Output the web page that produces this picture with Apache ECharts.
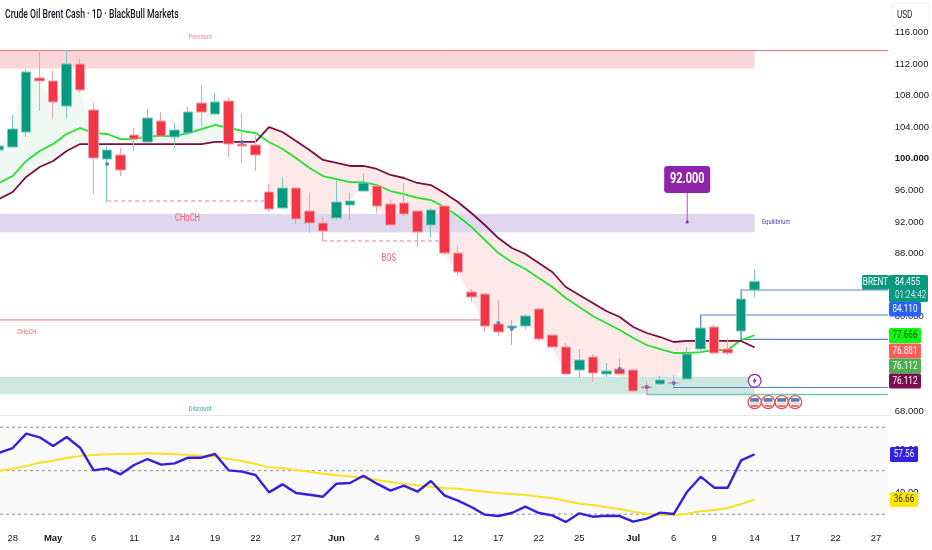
<!DOCTYPE html>
<html><head><meta charset="utf-8">
<style>html,body{margin:0;padding:0;background:#fff}#c{width:932px;height:550px}</style>
<script src="https://cdn.jsdelivr.net/npm/echarts@6/dist/echarts.min.js"></script>
</head><body><div id="c"></div>
<script>
const categories=["04-27","04-28","04-29","04-30","05-01","05-04","05-05","05-06","05-07","05-08","05-11","05-12","05-13","05-14","05-15","05-18","05-19","05-20","05-21","05-22","05-25","05-26","05-27","05-28","05-29","06-01","06-02","06-03","06-04","06-05","06-08","06-09","06-10","06-11","06-12","06-15","06-16","06-17","06-18","06-19","06-22","06-23","06-24","06-25","06-26","06-29","06-30","07-01","07-02","07-03","07-06","07-07","07-08","07-09","07-10","07-13","07-14","07-15","07-16","07-17","07-20","07-21","07-22","07-23","07-24","07-27"];
const dayTicks=["04-28","05-06","05-11","05-14","05-19","05-22","05-27","06-04","06-09","06-12","06-17","06-22","06-25","07-06","07-09","07-14","07-17","07-22","07-27"];
const monthTicks={"05-01":"May","06-01":"Jun","07-01":"Jul"};
const hiddenPriceTicks=[120,84,76,72];
const opens=[101.11,101.49,103.39,110.23,109.85,106.68,112.0,106.18,99.97,100.48,103.01,102.13,104.78,102.76,103.26,107.06,105.67,107.32,101.87,101.75,95.80,93.77,96.30,93.39,91.87,92.51,94.15,95.92,96.56,94.28,94.40,93.39,91.62,94.02,88.07,83.14,82.88,79.09,78.58,78.83,80.99,77.69,76.18,73.26,74.91,72.76,73.39,73.26,71.15,71.49,71.68,72.13,75.92,78.71,75.92,78.20,83.39];
const closes=[101.62,103.77,110.99,109.85,107.19,112.0,108.71,100.1,101.11,98.58,102.5,105.16,102.88,103.64,105.92,105.92,107.19,101.87,101.62,100.48,93.64,96.30,92.38,91.87,90.86,94.53,94.66,96.94,94.02,91.62,93.01,90.73,93.52,88.07,85.67,82.51,78.83,78.08,78.83,80.1,77.19,76.18,72.76,74.53,72.88,73.14,72.76,70.61,70.99,72.0,71.55,75.29,78.58,75.42,75.42,82.25,84.455];
const lows=[100.99,101.43,102.76,106.05,105.04,105.16,108.33,95.42,94.53,97.82,100.99,102.06,102.82,101.37,103.2,104.02,105.6,100.23,99.47,98.45,93.27,93.7,91.75,90.61,89.59,92.25,92.25,95.86,93.14,91.56,92.76,88.83,89.97,87.82,85.16,81.87,78.08,77.57,76.43,78.45,76.94,76.11,72.7,72.25,71.75,72.38,72.7,70.54,70.1,71.37,71.11,72.06,75.42,75.35,75.16,77.06,82.51];
const highs=[101.75,105.54,111.37,113.52,111.11,113.77,112.63,107.06,101.62,101.37,103.9,106.3,105.92,104.53,106.56,109.34,108.33,107.69,105.8,103.01,96.81,97.7,96.4,95.67,92.63,97.19,95.67,98.2,96.62,94.91,96.94,93.45,93.77,94.15,88.96,83.52,83.01,82.13,79.59,80.35,81.11,77.75,76.68,75.92,75.29,74.15,74.78,73.33,71.87,72.5,72.63,76.18,78.65,78.96,77.32,82.3,86.05];
const fastMA=[96.94,97.82,99.72,100.99,101.87,103.14,103.9,103.26,103.14,102.5,102.5,102.88,102.88,102.88,103.26,103.77,104.28,103.9,103.52,103.26,102.13,101.24,100.1,98.83,97.82,97.44,97.06,97.06,96.68,95.92,95.54,95.04,94.78,93.9,92.76,91.37,89.72,88.07,86.94,86.05,84.91,83.77,82.38,81.24,80.1,79.21,78.33,77.32,76.43,75.92,75.42,75.42,75.54,75.8,75.8,77.06,77.666];
const slowMA=[94.91,95.8,97.7,98.96,99.72,100.99,101.87,101.87,101.87,101.87,101.87,101.87,101.87,101.87,101.87,101.87,102.13,102.13,102.13,102.13,104.02,103.39,102.25,101.11,99.85,99.47,99.09,99.09,98.71,97.95,97.57,96.94,96.68,95.67,94.53,93.14,91.62,89.97,88.71,87.95,86.81,85.67,83.77,82.76,81.75,80.73,79.97,78.71,77.95,77.44,76.81,76.94,76.94,76.94,76.94,76.94,76.112];
const rsi=[58.28,60.43,67.02,65.33,61.35,65.49,60.58,50.16,51.08,48.32,52.61,55.37,52.77,53.38,55.98,55.98,57.67,50.16,49.55,48.01,40.04,43.72,39.74,38.97,38.05,44.03,44.34,47.71,44.03,40.81,43.11,40.35,45.26,38.67,36.21,33.3,29.78,29.16,30.54,33.46,30.54,29.47,26.4,30.39,28.86,29.32,29.16,26.56,27.94,30.7,30.08,40.35,47.25,42.19,42.19,54.76,57.56];
const rsiMA=[50,50.93,52.15,53.68,54.6,55.83,56.75,57.21,57.52,57.67,57.82,57.98,57.82,57.52,57.21,56.9,56.44,55.37,54.45,53.07,51.54,51.08,50.31,49.55,48.63,47.86,47.4,46.63,45.72,44.8,43.88,43.26,42.65,42.04,41.73,40.97,40.35,39.74,39.28,38.82,38.05,37.29,36.21,34.83,34.22,33.15,32.38,31.16,30.24,29.62,29.47,30.24,31.31,31.92,32.84,34.68,36.66];
const signalDots=[[8,99.34],[18,102.13],[37,79.21],[38,78.45],[46,73.43],[48,71.11],[50,71.62]];
const premiumZone=[113.7,111.43], equilibriumZone=[93.0,90.7], discountZone=[72.4,70.2];
const zoneEndBar=56, paneEndBar=65.89, trendFlipBar=20;
const rsiLevels=[70,50,30];
const blueLevels=[[[55,78.2],[55,77.13],[paneEndBar,77.13]],[[55,82.25],[55,83.39],[paneEndBar,83.39]],[[52,78.58],[52,80.23],[paneEndBar,80.23]],[[50,71.55],[50,71.05],[paneEndBar,71.05]]];
const tealLevels=[[[48,70.99],[48,70.17],[paneEndBar,70.17]]];
const redLevels=[[[-1,113.7],[paneEndBar,113.7]],[[-1,79.6],[36,79.6]]];
const dashedLevels=[[[8,94.66],[20,94.66]],[[24,89.6],[33,89.6]]];
const notes=[["Premium",14.9,115.4,"#f0808f",8],["CHoCH",13.96,92.5,"#ee5f70",10.5],["BOS",28.88,87.44,"#ee5f70",10.5],["CHoCH",2.05,78.07,"#ee5f70",8],["Discount",14.9,68.33,"#2aa894",8],["Equilibrium",57.6,92,"#4c3fb0",8]];
const targetBar=51, targetPrice=92;
const flagBars=[56,57,58,59], flagPrice=69.2, boltBar=56, boltPrice=71.9;

const FONT='"Liberation Sans",sans-serif', TF='Roboto,"Liberation Sans",sans-serif';
const UP='#089981',DOWN='#f23645';
function xAt(api,v){const f=Math.floor(v),b=Math.max(f,0);return api.coord([b,0])[0]+(v-b)*api.size([1,0])[0];}
function pathSeries(paths,color,width,dash,z){return {type:'custom',xAxisIndex:0,yAxisIndex:0,z,silent:true,clip:false,data:paths.map((_,k)=>[k]),renderItem(p,api){
  const pts=paths[p.dataIndex].map(q=>[xAt(api,q[0]),api.coord([0,q[1]])[1]]);
  return {type:'polyline',shape:{points:pts},style:{stroke:color,lineWidth:width,lineDash:dash||null,fill:null}};}};}
function zoneSeries(z1,fill){return {type:'custom',xAxisIndex:0,yAxisIndex:0,z:2,silent:true,clip:true,data:[[zoneEndBar,z1[0],z1[1]]],renderItem(p,api){
  const a=api.coord([zoneEndBar,z1[0]]),b=api.coord([zoneEndBar,z1[1]]);
  return {type:'rect',shape:{x:-8,y:a[1],width:a[0]+8,height:b[1]-a[1]},style:{fill}};}};}
const cloudRows=[];
for(let i=0;i<opens.length-1;i++){
  const j=i+1, green=i<trendFlipBar-1, pink=i>=trendFlipBar;
  if(!green&&!pink)continue;
  const edge=k=>green?Math.max(closes[k],slowMA[k]):Math.min(closes[k],slowMA[k]);
  cloudRows.push([i,slowMA[i],edge(i),slowMA[j],edge(j),green?0:1]);
}
const option={animation:false,backgroundColor:'#fff',tooltip:{show:false},
 grid:[{left:-7.54,width:890.34,top:0.8,height:410.8,outerBoundsMode:'none'},{left:-7.54,width:890.34,top:414.15,height:121.8,outerBoundsMode:'none'}],
 xAxis:[{type:'category',gridIndex:0,data:categories,boundaryGap:true,axisLine:{show:false},axisTick:{show:false},axisLabel:{show:false},splitLine:{show:false}},
  {type:'category',gridIndex:1,data:categories,boundaryGap:true,axisLine:{show:false},axisTick:{show:false},splitLine:{show:false},
   axisLabel:{interval:0,margin:-3,color:'#131722',fontFamily:FONT,fontSize:9.5,hideOverlap:false,
    rich:{m:{fontWeight:'bold',color:'#131722',fontFamily:FONT,fontSize:9.5}},
    formatter(v){if(monthTicks[v])return '{m|'+monthTicks[v]+'}';if(dayTicks.includes(v))return String(+v.slice(3));return '';}}}],
 yAxis:[{type:'value',gridIndex:0,position:'right',min:68,max:120,interval:4,scale:true,axisLine:{show:false},axisTick:{show:false},splitLine:{show:false},
   axisLabel:{margin:12,align:'left',color:'#131722',fontFamily:FONT,fontSize:9.5,rich:{b:{fontWeight:'bold',color:'#131722',fontFamily:FONT,fontSize:9.5}},
    formatter(v){if(hiddenPriceTicks.includes(v))return '';const s=v.toFixed(3);return v===100?'{b|'+s+'}':s;}}},
  {type:'value',gridIndex:1,position:'right',min:20,max:76,interval:20,axisLine:{show:false},axisTick:{show:false},splitLine:{show:false},
   axisLabel:{margin:12,align:'left',color:'#131722',fontFamily:FONT,fontSize:9.5,formatter(v){return (v===40||v===60)?v.toFixed(2):'';}}}],
 series:[
  {type:'custom',name:'cloud',xAxisIndex:0,yAxisIndex:0,z:1,silent:true,data:cloudRows,encode:{x:0,y:[1,2]},renderItem(p,api){
    const i=api.value(0),a=api.coord([i,api.value(1)]),b=api.coord([i,api.value(2)]),c=api.coord([i+1,api.value(4)]),d=api.coord([i+1,api.value(3)]);
    const fill=api.value(5)?'#fde9e9':'#eff8f2';
    return {type:'polygon',shape:{points:[a,b,c,d]},style:{fill,stroke:fill,lineWidth:0.5}};}},
  zoneSeries(premiumZone,'#fcd5d9'),zoneSeries(equilibriumZone,'#ded7ee'),zoneSeries(discountZone,'#cde7e1'),
  {type:'line',name:'Fast MA',xAxisIndex:0,yAxisIndex:0,data:fastMA,symbol:'none',z:3,silent:true,lineStyle:{color:'#22e32a',width:1.8}},
  {type:'line',name:'Slow MA',xAxisIndex:0,yAxisIndex:0,data:slowMA,symbol:'none',z:3,silent:true,lineStyle:{color:'#7b0f42',width:1.8}},
  pathSeries(redLevels,'#e4737b',1,null,3),
  pathSeries(dashedLevels,'#f27c8c',1,[4,3],3),
  pathSeries(blueLevels,'#5b83c6',1.2,null,3),
  pathSeries(tealLevels,'#74c5b3',1.5,null,3),
  {type:'candlestick',name:'BRENT',xAxisIndex:0,yAxisIndex:0,z:4,silent:true,barWidth:10,
   data:opens.map((o,i)=>[o,closes[i],lows[i],highs[i]]),
   itemStyle:{color:UP,color0:DOWN,borderColor:'#7ec8b9',borderColor0:'#f5a0a9',borderWidth:1}},
  {type:'scatter',name:'signals',xAxisIndex:0,yAxisIndex:0,z:5,silent:true,symbolSize:4,data:signalDots,itemStyle:{color:'#3b6cc4'}},
  {type:'custom',name:'notes',xAxisIndex:0,yAxisIndex:0,z:6,silent:true,clip:false,data:notes.map((_,k)=>[k]),renderItem(p,api){
    const n=notes[p.dataIndex];
    return {type:'text',x:xAt(api,n[1]),y:api.coord([0,n[2]])[1],scaleX:0.72,style:{text:n[0],fill:n[3],font:n[4]+'px '+TF,align:'center',verticalAlign:'middle'}};}},
  {type:'custom',name:'target',xAxisIndex:0,yAxisIndex:0,z:7,silent:true,clip:false,data:[[targetBar,targetPrice]],encode:{x:0,y:1},renderItem(p,api){
    const c=api.coord([api.value(0),api.value(1)]);const x=c[0],y=c[1];
    return {type:'group',children:[
      {type:'line',shape:{x1:x,y1:y,x2:x,y2:y-29},style:{stroke:'#b14fc0',lineWidth:1}},
      {type:'circle',shape:{cx:x,cy:y,r:1.5},style:{fill:'#8e24aa'}},
      {type:'rect',shape:{x:x-23,y:y-56,width:46,height:27,r:3},style:{fill:'#8e24aa'}},
      {type:'text',x:x,y:y-42.5,scaleX:0.78,style:{text:api.value(1).toFixed(3),fill:'#fff',font:'bold 14px '+TF,align:'center',verticalAlign:'middle'}}]};}},
  {type:'custom',name:'events',xAxisIndex:0,yAxisIndex:0,z:7,silent:true,clip:false,data:flagBars.map(b=>[b,flagPrice]),encode:{x:0,y:1},renderItem(p,api){
    const c=api.coord([api.value(0),api.value(1)]);const x=c[0],y=c[1];
    return {type:'group',children:[
      {type:'circle',shape:{cx:x,cy:y,r:6.6},style:{fill:'#fff',stroke:'#e24a4a',lineWidth:1.2}},
      {type:'rect',shape:{x:x-4.4,y:y-4,width:8.8,height:3.6},style:{fill:'#5a78b8'}},
      {type:'rect',shape:{x:x-4.6,y:y+0.6,width:9.2,height:1},style:{fill:'#f3b5b5'}},
      {type:'rect',shape:{x:x-3.6,y:y+3,width:7.2,height:1.6},style:{fill:'#e24a4a'}}]};}},
  {type:'custom',name:'bolt',xAxisIndex:0,yAxisIndex:0,z:7,silent:true,clip:false,data:[[boltBar,boltPrice]],encode:{x:0,y:1},renderItem(p,api){
    const c=api.coord([api.value(0),api.value(1)]);const x=c[0],y=c[1];
    return {type:'group',children:[
      {type:'circle',shape:{cx:x,cy:y,r:6.4},style:{fill:'#fff',stroke:'#8e24aa',lineWidth:1.2}},
      {type:'polygon',shape:{points:[[x+1,y-4],[x-2.2,y+0.8],[x-0.2,y+0.8],[x-1,y+4],[x+2.2,y-1],[x+0.2,y-1]]},style:{fill:'#8e24aa'}}]};}},
  {type:'custom',name:'rsi band',xAxisIndex:1,yAxisIndex:1,z:1,silent:true,clip:false,data:[[0,rsiLevels[0],rsiLevels[2]]],renderItem(p,api){
    const a=api.coord([0,rsiLevels[0]])[1],b=api.coord([0,rsiLevels[2]])[1];
    return {type:'rect',shape:{x:0,y:a,width:xAt(api,paneEndBar),height:b-a},style:{fill:'#fafafa'}};}},
  {type:'custom',name:'rsi levels',xAxisIndex:1,yAxisIndex:1,z:2,silent:true,clip:false,data:rsiLevels.map(v=>[0,v]),encode:{y:1},renderItem(p,api){
    const y=api.coord([0,api.value(1)])[1];
    return {type:'line',shape:{x1:0,y1:y,x2:xAt(api,paneEndBar),y2:y},style:{stroke:'#8f8f8f',lineWidth:1,lineDash:[3,3]}};}},
  {type:'line',name:'RSI MA',xAxisIndex:1,yAxisIndex:1,data:rsiMA,symbol:'none',z:3,silent:true,lineStyle:{color:'#f9e225',width:2}},
  {type:'line',name:'RSI',xAxisIndex:1,yAxisIndex:1,data:rsi,symbol:'none',z:4,silent:true,lineStyle:{color:'#3320dd',width:2.4}}
 ],
 graphic:[]
};
const S=0.74;
function txt(x,y,text,fill,size,align,sx,weight){return {type:'text',z:101,silent:true,x,y,scaleX:sx||S,style:{text,fill,font:(weight?weight+' ':'')+(size||11)+'px '+TF,align:align||'center',verticalAlign:'middle'}};}
function tag(x,y,w,h,fill,text,color){return {type:'group',z:100,silent:true,children:[
  {type:'rect',shape:{x,y,width:w,height:h,r:1.5},style:{fill},z:100},
  txt(x+w/2,y+h/2,text,color)]};}
option.graphic=[
 txt(5,15,'Crude Oil Brent Cash · 1D · BlackBull Markets','#131722',12.5,'left',0.69,500),
 {type:'rect',z:100,silent:true,shape:{x:0,y:415.5,width:890,height:0},style:{stroke:'#e6e6ea',lineWidth:1}},
 {type:'rect',z:100,silent:true,shape:{x:892,y:3,width:37,height:23,r:3},style:{fill:'#fff',stroke:'#efeff2',lineWidth:1}},
 txt(897,15,'USD','#131722',11,'left'),
 tag(862,275,27,14.5,UP,'BRENT','#fff'),
 {type:'group',z:100,silent:true,children:[
   {type:'rect',z:100,shape:{x:889,y:275,width:39,height:27,r:1.5},style:{fill:UP}},
   txt(895,282.5,'84.455','#fff',11,'left'),
   txt(895,295,'01:24:42','#c4e6df',11,'left')]},
 tag(889,302,32,14.5,'#2962ff','84.110','#fff'),
 tag(889,328,32,15,'#0dfa0d','77.666','#14501a'),
 tag(889,343.5,32,15,'#ff5c5c','76.881','#fff'),
 tag(889,358.5,32,15,'#4caf50','76.112','#fff'),
 tag(889,373.5,32,15,'#7b0f52','76.112','#fff'),
 tag(890,447,28,15,'#3320e8','57.56','#fff'),
 tag(890,492,28,15,'#ffe600','36.66','#333')
];
const chart=echarts.init(document.getElementById('c'),null,{renderer:'canvas'});
chart.setOption(option);
</script></body></html>
